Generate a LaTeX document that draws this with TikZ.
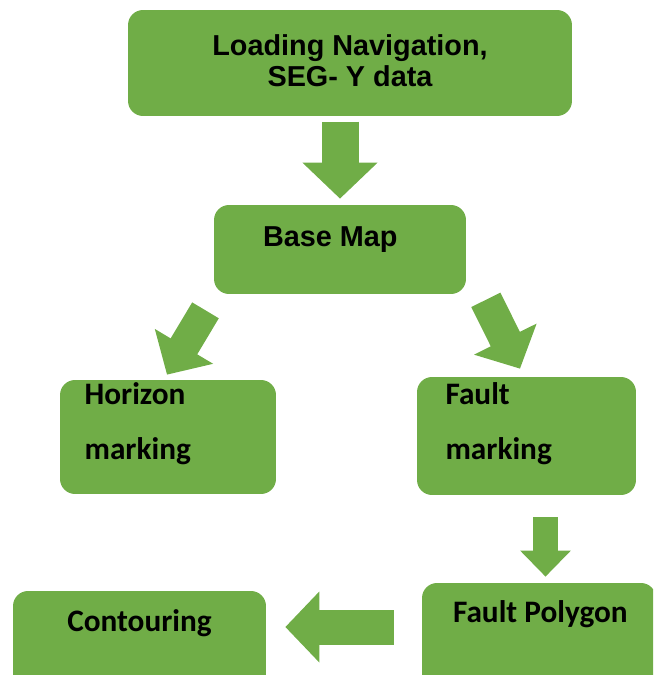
\documentclass[tikz,border=0pt]{standalone}
\usepackage{fontspec}
\usetikzlibrary{arrows.meta,calc,positioning}
\newfontfamily\headfont{Liberation Sans}
\newfontfamily\stepfont{Carlito}
\definecolor{leaf}{HTML}{70AD47}

\tikzset{
  box/.style={fill=leaf, rounded corners=0.3cm, inner sep=0pt},
  headtxt/.style={font=\headfont\bfseries\fontsize{16.4}{17.6}\selectfont, align=center, inner sep=0pt},
  steptxt/.style={font=\stepfont\bfseries\fontsize{17.8}{31.2}\selectfont, align=left, inner sep=0pt},
  blockarrow/.style args={#1/#2/#3}{leaf, line width=#1, -{Triangle[width=#2, length=#3]}}
}

\begin{document}
\begin{tikzpicture}[x=0.02cm, y=-0.02cm]
\useasboundingbox (0,0) rectangle (653,675);
\clip (0,0) rectangle (653,675);

% boxes
\node[box, minimum width=8.88cm, minimum height=2.12cm] (load) at (350,63) {};
\node[box, minimum width=5.04cm, minimum height=1.78cm] (base) at (340,249.5) {};
\node[box, minimum width=4.32cm, minimum height=2.28cm] (horizon) at (168,437) {};
\node[box, minimum width=4.38cm, minimum height=2.36cm] (faultmark) at (526.5,436) {};
\node[box, minimum width=5.06cm, minimum height=2.18cm] (contour) at (139.5,645.5) {};
\node[box, minimum width=4.68cm, minimum height=2.34cm] (polygon) at (539,641.5) {};

% texts (base of a two-line node is its last line)
\node[headtxt, anchor=base] (loadtxt) at ($(load.north)+(0,77)$) {Loading Navigation,\\SEG- Y data};
\node[headtxt, anchor=base west] (basetxt) at ($(base.north west)+(49,42)$) {Base Map};
\node[steptxt, anchor=base west] (horizontxt) at ($(horizon.north west)+(24.6,80)$) {Horizon\\marking};
\node[steptxt, anchor=base west] (faulttxt) at ($(faultmark.north west)+(28.5,83)$) {Fault\\marking};
\node[steptxt, anchor=base] (contourtxt) at ($(contour.north)+(0,41)$) {Contouring};
\node[steptxt, anchor=base west] (polygontxt) at ($(polygon.north west)+(31,40)$) {Fault Polygon};

% arrows
\draw[blockarrow=0.74cm/1.46cm/0.72cm] ($(base.north)+(0,-83)$) -- ($(base.north)+(0,-6)$);
\draw[blockarrow=0.62cm/1.32cm/0.66cm] ($(base.south)+(-134.5,16)$) -- ($(horizon.north)+(-1,-5)$);
\draw[blockarrow=0.65cm/1.36cm/0.66cm] ($(base.south east)+(19.5,5.5)$) -- ($(faultmark.north)+(-6.5,-8)$);
\draw[blockarrow=0.5cm/0.98cm/0.52cm] ($(faultmark.south)+(19,22)$) -- ($(polygon.north)+(6.5,-6)$);
\draw[blockarrow=0.7cm/1.38cm/0.68cm] ($(polygon.west)+(-28,-14.5)$) -- ($(contour.east)+(19,-18.5)$);
\end{tikzpicture}
\end{document}
